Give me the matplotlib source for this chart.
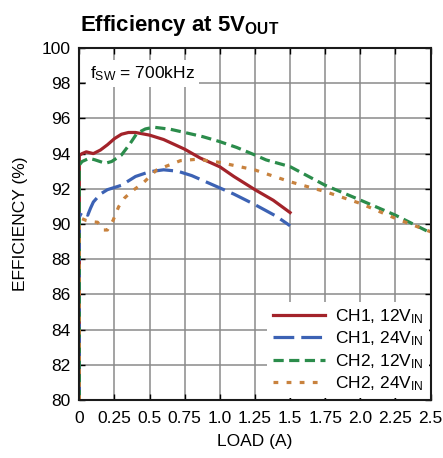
import matplotlib
matplotlib.use("Agg")
import matplotlib.pyplot as plt

plt.rcParams['font.family'] = ['Liberation Sans', 'DejaVu Sans']
plt.rcParams['mathtext.default'] = 'regular'

# load current (A) and efficiency (%)
ch1_12_x = [0, 0, 0.02, 0.05, 0.1, 0.15, 0.2, 0.25, 0.3, 0.35, 0.4, 0.5, 0.6, 0.75, 0.86, 1.0, 1.1, 1.25, 1.38, 1.5]
ch1_12_y = [80, 93.9, 94.0, 94.1, 94.0, 94.2, 94.5, 94.85, 95.1, 95.2, 95.2, 95.05, 94.8, 94.25, 93.75, 93.25, 92.7, 91.95, 91.35, 90.65]

ch1_24_x = [0, 0, 0.02, 0.04, 0.06, 0.08, 0.1, 0.15, 0.2, 0.3, 0.4, 0.5, 0.6, 0.7, 0.8, 0.9, 1.0, 1.1, 1.25, 1.4, 1.5]
ch1_24_y = [80, 90.4, 90.7, 90.6, 90.5, 90.9, 91.25, 91.7, 91.95, 92.2, 92.7, 92.97, 93.08, 93.0, 92.75, 92.4, 92.05, 91.7, 91.1, 90.45, 89.9]

ch2_12_x = [0, 0, 0.02, 0.07, 0.11, 0.185, 0.23, 0.3, 0.36, 0.41, 0.47, 0.53, 0.65, 0.75, 0.88, 1.0, 1.12, 1.25, 1.33, 1.5, 1.75, 2.0, 2.25, 2.5]
ch2_12_y = [80, 93.35, 93.55, 93.73, 93.65, 93.45, 93.55, 93.92, 94.55, 95.15, 95.4, 95.5, 95.38, 95.2, 94.96, 94.68, 94.35, 93.92, 93.64, 93.26, 92.2, 91.36, 90.5, 89.5]

ch2_24_x = [0, 0, 0.02, 0.05, 0.09, 0.13, 0.17, 0.2, 0.24, 0.28, 0.32, 0.37, 0.45, 0.55, 0.72, 0.84, 1.0, 1.25, 1.5, 1.75, 2.0, 2.25, 2.5]
ch2_24_y = [80, 90.25, 90.3, 90.2, 90.13, 90.1, 89.66, 89.66, 90.2, 90.98, 91.46, 91.84, 92.3, 93.07, 93.6, 93.68, 93.5, 93.07, 92.4, 91.84, 91.17, 90.32, 89.56]

xticks = [0, 0.25, 0.5, 0.75, 1.0, 1.25, 1.5, 1.75, 2.0, 2.25, 2.5]
xticklabels = ['0', '0.25', '0.5', '0.75', '1.0', '1.25', '1.5', '1.75', '2.0', '2.25', '2.5']

fig = plt.figure(figsize=(4.43, 4.58), dpi=100)
ax = fig.add_axes([0.179, 0.1266, 0.793, 0.7686])

lw = 2.3
ax.plot(ch1_12_x, ch1_12_y, color='#a3232a', lw=lw, label='CH1, 12V$_{IN}$')
ax.plot(ch1_24_x, ch1_24_y, color='#3c62b4', lw=lw, dashes=(6.5, 2.2), label='CH1, 24V$_{IN}$')
ax.plot(ch2_12_x, ch2_12_y, color='#2b8c4b', lw=lw, dashes=(3.2, 1.7), label='CH2, 12V$_{IN}$')
ax.plot(ch2_24_x, ch2_24_y, color='#c8823e', lw=lw, dashes=(1.5, 2.6), label='CH2, 24V$_{IN}$')

ax.set_xlim(0, 2.5)
ax.set_ylim(80, 100)
ax.set_xticks(xticks)
ax.set_xticklabels(xticklabels)
ax.set_yticks(range(80, 101, 2))
ax.tick_params(direction='in', length=4, width=1, top=True, right=True, labelsize=12.5)
ax.tick_params(axis='x', pad=8)
ax.tick_params(axis='y', pad=6)
ax.grid(True, color='#8a8a8a', lw=1.1)
ax.set_axisbelow(True)
for s in ax.spines.values():
    s.set_linewidth(1.5)
    s.set_color('#1a1a1a')

ax.set_xlabel('LOAD (A)', fontsize=12.5, labelpad=6)
ax.set_ylabel('EFFICIENCY (%)', fontsize=12.5, labelpad=10)

ax.text(0.03, 0.955, 'f$_{SW}$ = 700kHz', transform=ax.transAxes, fontsize=12.5, va='top', ha='left',
        bbox=dict(facecolor='white', edgecolor='none', pad=3))

leg = ax.legend(loc='lower right', fontsize=12.5, frameon=True, fancybox=False, handlelength=3.0,
                handletextpad=0.6, labelspacing=0.22, borderpad=0.3, borderaxespad=0.1)
leg.get_frame().set_edgecolor('none')
leg.get_frame().set_facecolor('white')
leg.get_frame().set_alpha(1)

fig.text(80 / 443, 1 - 31 / 458, 'Efficiency at 5V$_{OUT}$', fontsize=16, fontweight='bold',
         ha='left', va='baseline')

fig.savefig('out.png', dpi=100)
